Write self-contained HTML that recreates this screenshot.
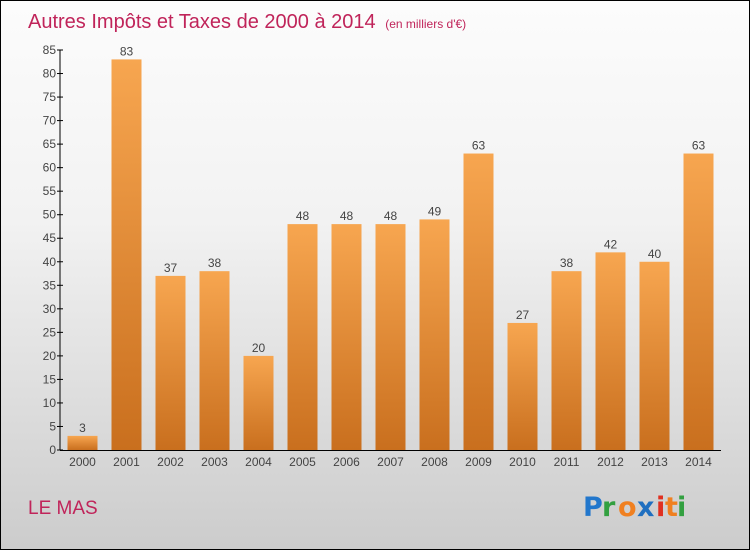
<!DOCTYPE html>
<html><head><meta charset="utf-8"><style>
html,body{margin:0;padding:0}
body{width:750px;height:550px;overflow:hidden;font-family:"Liberation Sans",sans-serif}
#wrap{position:relative;width:748px;height:548px;border:1px solid #000;background:linear-gradient(#fcfcfc,#f2f2f2 40%,#cccccc)}
</style></head><body>
<div id="wrap">
<svg id="chart" width="748" height="548">
<defs><linearGradient id="bg" x1="0" y1="0" x2="0" y2="1"><stop offset="0" stop-color="#f7a650"/><stop offset="1" stop-color="#c96f1e"/></linearGradient></defs>
<text x="27" y="27" font-size="20" fill="#c0245a">Autres Impôts et Taxes de 2000 à 2014 <tspan font-size="12" dx="4">(en milliers d'€)</tspan></text>
<text x="27" y="513" font-size="19" fill="#c0245a">LE MAS</text>
<g font-size="27" font-weight="bold" font-family="'DejaVu Sans',sans-serif">
<text x="582" y="515" fill="#2277cc">P</text><text x="601" y="515" fill="#33a040">r</text><text x="617" y="515" fill="#f08020">o</text><text x="636" y="515" fill="#1f6fc0">x</text><text x="655" y="515" fill="#e03020">i</text><text x="664" y="515" fill="#f08020">t</text><text x="676" y="515" fill="#33a040">i</text>
</g>
<g id="plot"></g>
</svg>
</div>
<script>
const categories=["2000","2001","2002","2003","2004","2005","2006","2007","2008","2009","2010","2011","2012","2013","2014"];
const values=[3,83,37,38,20,48,48,48,49,63,27,38,42,40,63];
const yTicks=[0,5,10,15,20,25,30,35,40,45,50,55,60,65,70,75,80,85];
const NS="http://www.w3.org/2000/svg";
const g=document.getElementById('plot');
const x0=59,band=44,y0=449,yMax=85,ph=400;
const yS=v=>y0-v/yMax*ph;
const xS=i=>x0+i*band;
function mk(t,a){const e=document.createElementNS(NS,t);for(const k in a)e.setAttribute(k,a[k]);g.appendChild(e);return e;}
values.forEach((v,i)=>{
 const r=mk('rect',{x:xS(i)+7.5,y:yS(v),width:30,height:y0-yS(v),fill:'url(#bg)'});
 
 
 const t=mk('text',{x:xS(i)+22.5,y:yS(v)-4,'text-anchor':'middle','font-size':12,fill:'#444'});
 t.textContent=v;
 
 
 const c=mk('text',{x:xS(i)+22.5,y:y0+16,'text-anchor':'middle','font-size':12,fill:'#444'});
 c.textContent=categories[i];
 
 
});
const ya=mk('line',{x1:x0,y1:y0,x2:x0,y2:yS(85),stroke:'#000'});


const xa=mk('line',{x1:x0,y1:y0+0.5,x2:x0+categories.length*band+1,y2:y0+0.5,stroke:'#000'});


yTicks.forEach(v=>{
 mk('line',{x1:x0-3,y1:yS(v),x2:x0+3,y2:yS(v),stroke:'#000'});
 const t=mk('text',{x:x0-4,y:yS(v)+4,'text-anchor':'end','font-size':12,fill:'#444'});
 t.textContent=v;
 
 
});
</script>
</body></html>
